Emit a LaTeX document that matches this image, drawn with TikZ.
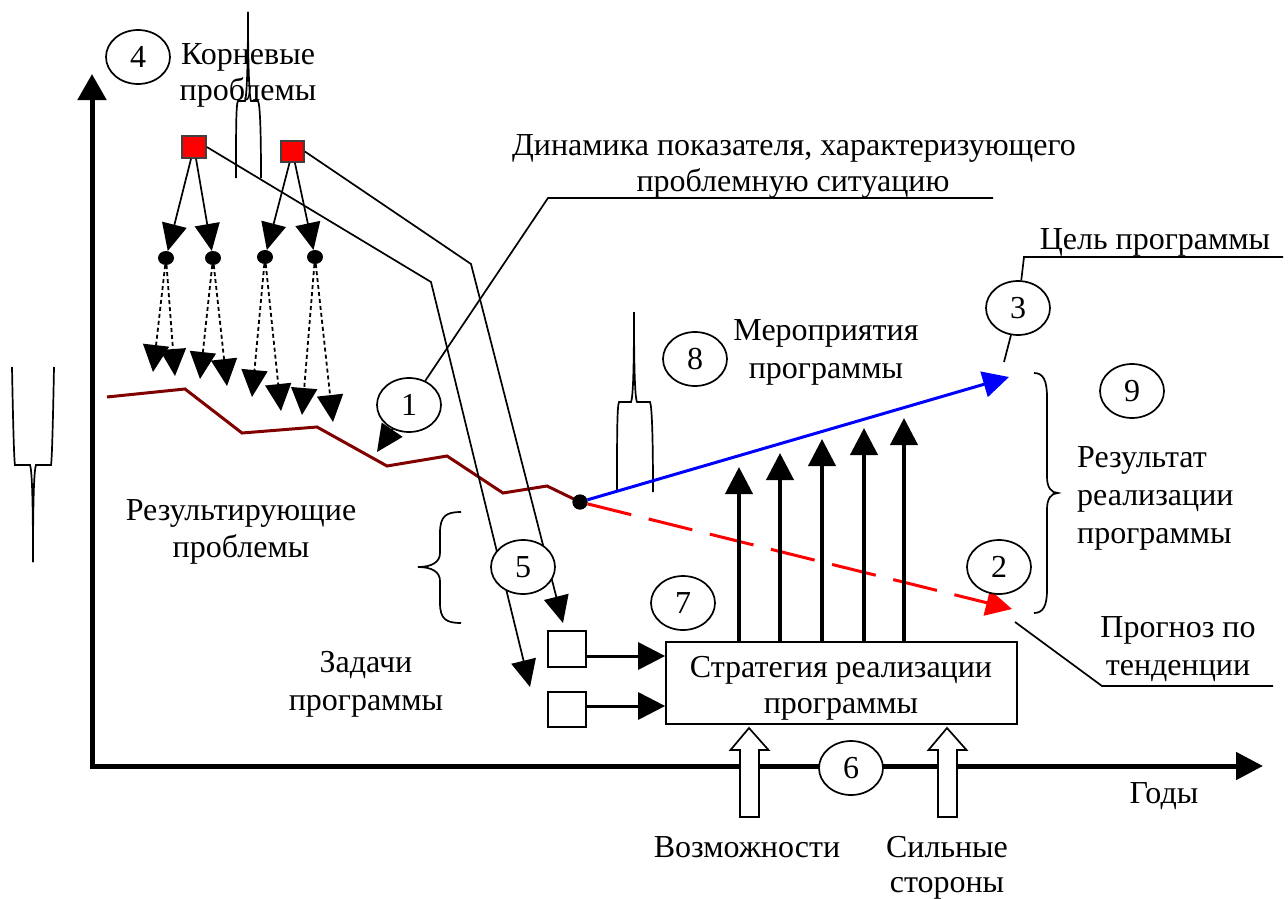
\documentclass[tikz,border=0pt]{standalone}
\usepackage{fontspec}
\setmainfont{Liberation Serif}
\usetikzlibrary{arrows.meta,shapes.geometric,calc}
\definecolor{maroon}{RGB}{128,0,0}
\begin{document}
\begin{tikzpicture}[x=1pt,y=-1pt,
  txt/.style={font=\fontsize{32}{38}\selectfont, inner sep=0pt, anchor=base},
  num/.style={ellipse, draw, line width=1.7pt, fill=white, minimum width=64pt, minimum height=54pt, inner sep=0pt, font=\fontsize{32}{38}\selectfont},
  thinln/.style={line width=1.7pt},
  tri/.style={line width=1.7pt, -{Triangle[length=27pt,width=25pt]}},
  dotarr/.style={line width=1.8pt, dash pattern=on 4pt off 3pt, -{Triangle[length=27pt,width=26pt]}},
  thickarr/.style={line width=4pt, -{Triangle[length=27pt,width=27pt]}},
  medarr/.style={line width=3pt, -{Triangle[length=27pt,width=27pt]}},
  redsq/.style={rectangle, draw=black!75, line width=1.7pt, fill=red, minimum width=24pt, minimum height=22pt, inner sep=0pt},
  bigdot/.style={ellipse, fill=black, inner sep=0pt, minimum width=16pt, minimum height=14pt},
  taskbox/.style={rectangle, draw, line width=1.7pt, fill=white, minimum width=38pt, minimum height=36pt, inner sep=0pt},
  blk/.style={draw, line width=1.7pt, fill=white, line join=miter}
]
\useasboundingbox (0,0) rectangle (1288,899);

% axes
\coordinate (org) at (92,766);
\coordinate (ytop) at (92,74);
\coordinate (xend) at (1263,766);
\draw[line width=5pt, {Triangle[length=26pt,width=28pt]}-{Triangle[length=27pt,width=27pt]}] (ytop) -- (org) -- (xend);

% texts
\node[txt] (kor1) at (248,65) {Корневые};
\node[txt] (kor2) at (248,100) {проблемы};
\node[txt] (din1) at (794,155) {Динамика показателя, характеризующего};
\node[txt] (din2) at (793,191) {проблемную ситуацию};
\node[txt] (goal) at (1155,249) {Цель программы};
\node[txt] (mer1) at (826,340) {Мероприятия};
\node[txt] (mer2) at (826,378) {программы};
\node[txt, anchor=base west] (res1) at (1077,467) {Результат};
\node[txt, anchor=base west] (res2) at (1077,505) {реализации};
\node[txt, anchor=base west] (res3) at (1077,543) {программы};
\node[txt] (rp1) at (241,520) {Результирующие};
\node[txt] (rp2) at (241,557) {проблемы};
\node[txt] (zad1) at (366,672) {Задачи};
\node[txt] (zad2) at (366,710) {программы};
\node[txt] (prg1) at (1178,637) {Прогноз по};
\node[txt] (prg2) at (1178,675) {тенденции};
\node[txt] (years) at (1164,803) {Годы};
\node[txt] (opp) at (747,857) {Возможности};
\node[txt] (str1) at (947,857) {Сильные};
\node[txt] (str2) at (947,892) {стороны};

% odd brace-like strokes
\draw[thinln] (236,178) .. controls (236,130) and (236,104) .. (238,101) -- (245,101) .. controls (247,96) and (248,60) .. (248,12);
\draw[thinln] (261,178) .. controls (261,130) and (260,104) .. (258,101) -- (251,101) .. controls (249,96) and (248,60) .. (248,12);
\draw[thinln] (12,367) .. controls (13,420) and (14,460) .. (15,465) -- (30,465) .. controls (32,470) and (33,500) .. (33,562);
\draw[thinln] (54,367) .. controls (53,420) and (52,460) .. (51,465) -- (36,465) .. controls (34,470) and (33,500) .. (33,562);
\draw[thinln] (617,492) .. controls (617,440) and (617,406) .. (619,402) -- (631,402) .. controls (633,398) and (634,370) .. (634,312);
\draw[thinln] (653,492) .. controls (653,440) and (652,406) .. (650,402) -- (637,402) .. controls (635,398) and (634,370) .. (634,312);

% braces
\draw[thinln] (461,512) .. controls (446,512) and (440,516) .. (440,533) -- (440,553) .. controls (440,562) and (432,567) .. (418,567) .. controls (432,567) and (440,572) .. (440,581) -- (440,603) .. controls (440,619) and (446,623) .. (461,623);
\draw[thinln] (1034,373) .. controls (1043,373) and (1047,380) .. (1047,397) -- (1047,477) .. controls (1047,487) and (1051,493) .. (1058,493) .. controls (1051,493) and (1047,499) .. (1047,509) -- (1047,590) .. controls (1047,606) and (1043,613) .. (1034,613);

% red squares and dots
\node[redsq] (sq1) at (194,147) {};
\node[redsq, minimum width=23pt, minimum height=21pt] (sq2) at (292.5,151.5) {};
\node[bigdot] (d1) at (166,258) {};
\node[bigdot] (d2) at (213,258) {};
\node[bigdot] (d3) at (265,257) {};
\node[bigdot] (d4) at (315,257) {};
\draw[tri] (sq1) -- (d1);
\draw[tri] (sq1) -- (d2);
\draw[tri] (sq2) -- (d3);
\draw[tri] (sq2) -- (d4);

% dotted arrows
\coordinate (e1) at (153,372);
\coordinate (e2) at (175,376);
\coordinate (e3) at (200,379);
\coordinate (e4) at (227,386);
\coordinate (e5) at (252,397);
\coordinate (e6) at (281,411);
\coordinate (e7) at (302,415);
\coordinate (e8) at (333,422);
\draw[dotarr] (d1) -- (e1);
\draw[dotarr] (d1) -- (e2);
\draw[dotarr] (d2) -- (e3);
\draw[dotarr] (d2) -- (e4);
\draw[dotarr] (d3) -- (e5);
\draw[dotarr] (d3) -- (e6);
\draw[dotarr] (d4) -- (e7);
\draw[dotarr] (d4) -- (e8);

% indicator line
\node[bigdot, minimum width=15pt, minimum height=15pt] (pt) at (580,502) {};
\draw[maroon, line width=3pt, line join=miter] (107,397) -- (185,389) -- (242,433) -- (317,427) -- (387,466) -- (447,456) -- (503,493) -- (547,486) -- (pt.center);
\coordinate (goalpt) at (1009,377);
\coordinate (fcpt) at (1012,609);
\draw[blue, line width=3pt, -{Triangle[length=26pt,width=26pt]}] (pt) -- (goalpt);
\draw[red, line width=3pt, dash pattern=on 45pt off 18pt, -{Triangle[length=26pt,width=26pt]}] (pt) -- (fcpt);
\node[bigdot, minimum width=15pt, minimum height=15pt] at (pt) {};

% task boxes and strategy box
\node[taskbox] (t1) at (567,649) {};
\node[taskbox, minimum height=35pt] (t2) at (567,709.5) {};
\node[rectangle, draw, line width=1.7pt, fill=white, minimum width=351pt, minimum height=82pt, inner sep=0pt] (strat) at (841.5,683) {};
\node[txt] (st1) at (841,677) {Стратегия реализации};
\node[txt] (st2) at (841,713) {программы};
\coordinate (h1) at (586,656);
\coordinate (h2) at (586,706);
\draw[medarr] (h1) -- (strat.west |- h1);
\draw[medarr] (h2) -- (strat.west |- h2);

% lines from root problems to tasks
\coordinate (k1) at (431,282);
\coordinate (k2) at (471,264);
\coordinate (g1) at (530,687);
\coordinate (g2) at (563,623);
\draw[tri, line join=miter] (sq1.east) -- (k1) -- (g1);
\draw[tri, line join=miter] (sq2.east) -- (k2) -- (g2);

% measures arrows
\foreach \x/\y [count=\i] in {739/467, 780/453, 822/439, 864/428, 904/418} {
  \coordinate (m\i) at (\x,\y);
  \draw[thickarr] (strat.north -| m\i) -- (m\i);
}

% block arrows
\coordinate (b1) at (749,728);
\coordinate (b2) at (947,728);
\draw[blk] (b1) -- ++(19.5,22) -- ++(-9.5,0) -- ++(0,67) -- ++(-19,0) -- ++(0,-67) -- ++(-9.5,0) -- cycle;
\draw[blk] (b2) -- ++(19.5,22) -- ++(-9.5,0) -- ++(0,67) -- ++(-19,0) -- ++(0,-67) -- ++(-9.5,0) -- cycle;

% numbered circles
\node[num] (c1) at (409,405) {1};
\node[num] (c2) at (999,567) {2};
\node[num] (c3) at (1018,308) {3};
\node[num] (c4) at (138,57) {4};
\node[num] (c5) at (523,567) {5};
\node[num] (c6) at (851,768) {6};
\node[num] (c7) at (683,603) {7};
\node[num] (c8) at (695,359) {8};
\node[num] (c9) at (1132,391) {9};

% callouts
\coordinate (q1) at (548,198);
\coordinate (q2) at (993,198);
\draw[thinln] (c1) -- (q1) -- (q2);
\coordinate (r1) at (377,452);
\draw[tri] (c1) -- (r1);
\coordinate (p1) at (1024,257);
\coordinate (p2) at (1283,257);
\draw[thinln] (c3) -- (p1) -- (p2);
\coordinate (p3) at (1004,362);
\draw[thinln] (c3) -- (p3);
\coordinate (f1) at (1015,622);
\coordinate (f2) at (1102,686);
\coordinate (f3) at (1273,686);
\draw[thinln] (f1) -- (f2) -- (f3);
\end{tikzpicture}
\end{document}
